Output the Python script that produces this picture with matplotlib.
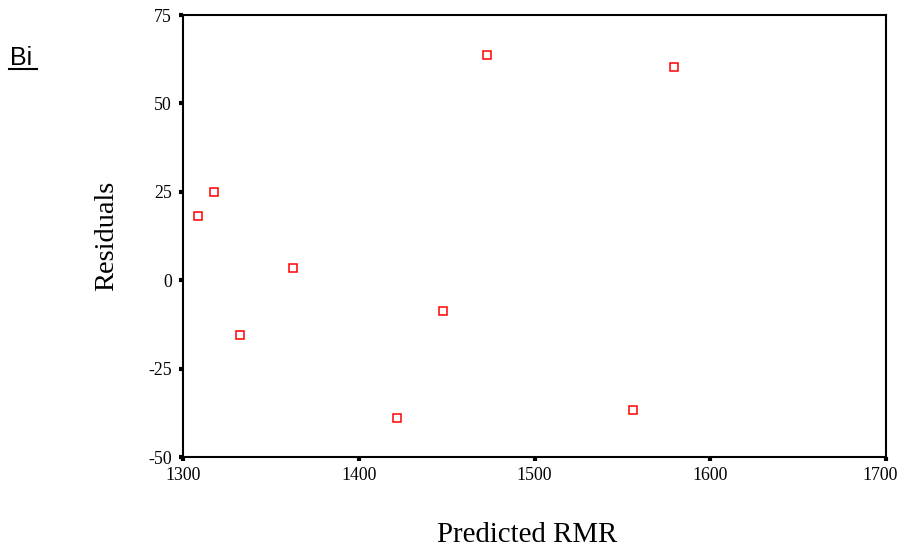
import matplotlib
matplotlib.use("Agg")
import matplotlib.pyplot as plt
import matplotlib.transforms as mtransforms

predicted = [1308.5, 1317.6, 1332.4, 1362.6, 1421.8, 1447.9, 1473.0, 1556.0, 1579.4]
residuals = [18.1, 24.9, -15.6, 3.4, -39.0, -8.8, 63.6, -36.8, 60.2]
xticks = [1300, 1400, 1500, 1600, 1700]
yticks = [-50, -25, 0, 25, 50, 75]

fig = plt.figure(figsize=(9.01, 5.5), dpi=100)
ax = fig.add_axes([183/901, 1-457/550, (886-183)/901, (457-15)/550])
ax.plot(predicted, residuals, linestyle='none', marker='s', markersize=5.8,
        markerfacecolor='none', markeredgecolor='#ff0000', markeredgewidth=1.1)
ax.set_xlim(1300, 1700)
ax.set_ylim(-50, 75)
ax.set_xticks(xticks)
ax.set_yticks(yticks)
ax.set_xticklabels([str(v) for v in xticks], family='Liberation Serif', fontsize=12.8)
ax.set_yticklabels([str(v) for v in yticks], family='Liberation Serif', fontsize=12.8)
ax.tick_params(direction='out', length=3, width=3, pad=4)
ax.tick_params(axis='y', pad=5)
for s in ax.spines.values():
    s.set_linewidth(1.5)
last = ax.get_xticklabels()[-1]
last.set_transform(last.get_transform() + mtransforms.ScaledTranslation(-6/100, 0, fig.dpi_scale_trans))
ax.set_xlabel('Predicted RMR', family='Liberation Serif', fontsize=20.8)
ax.xaxis.set_label_coords(0.49, -0.146)
ax.set_ylabel('Residuals', family='Liberation Serif', fontsize=20.5)
ax.yaxis.set_label_coords(-0.091, 0.5)
fig.text(10/901, 1-65/550, 'Bi', family='Liberation Sans', fontsize=18, va='baseline', ha='left')
fig.add_artist(plt.Line2D([9/901, 37/901], [1-69/550, 1-69/550], color='black', linewidth=1.5))
fig.savefig('out.png', dpi=100)
